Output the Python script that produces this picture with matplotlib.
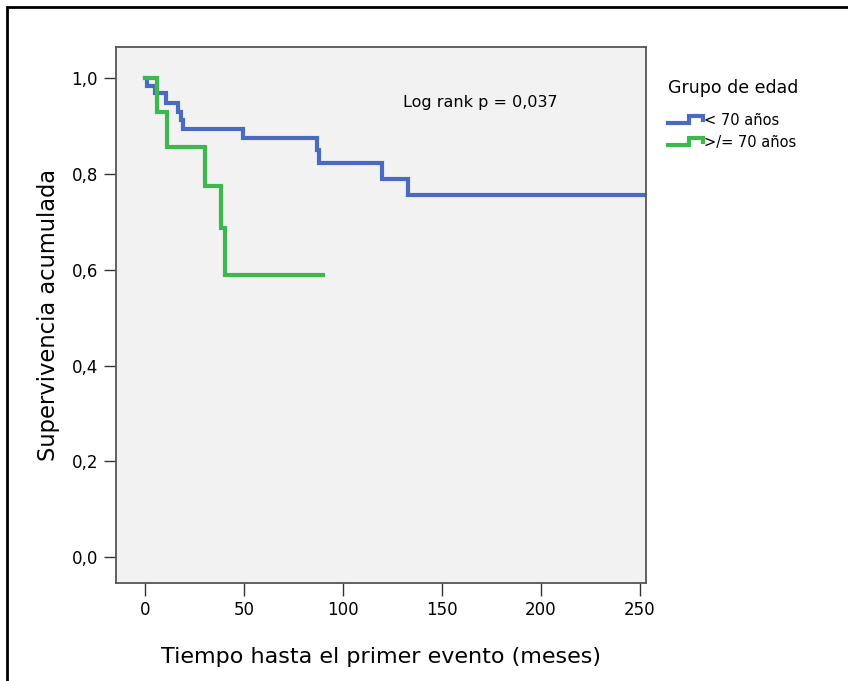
import numpy as np
import matplotlib
matplotlib.use("Agg")
import matplotlib.pyplot as plt
from matplotlib.lines import Line2D
from matplotlib.patches import Rectangle
from matplotlib.legend_handler import HandlerBase

# Kaplan-Meier steps
tiempo_menor70 = [0, 1, 5, 10.6, 16.8, 18.2, 19.4, 49.7, 87, 88, 119.5, 132.7, 255]
surv_menor70 = [1.0, 0.984, 0.968, 0.948, 0.930, 0.912, 0.894, 0.874, 0.850, 0.822, 0.790, 0.756, 0.756]

tiempo_mayor70 = [0, 5.9, 10.9, 30.3, 38.2, 40.4, 90]
surv_mayor70 = [1.0, 0.929, 0.857, 0.774, 0.688, 0.590, 0.590]

etiquetas = ["< 70 años", ">/= 70 años"]
colores = ["#4a6abf", "#3cb94c"]
x_ticks = [0, 50, 100, 150, 200, 250]
y_ticks = [0.0, 0.2, 0.4, 0.6, 0.8, 1.0]

plt.rcParams["font.family"] = ["DejaVu Sans"]


class StepHandler(HandlerBase):
    # legend icon drawn as a small step, like SPSS does
    def create_artists(self, legend, orig_handle, xdescent, ydescent,
                       width, height, fontsize, trans):
        xs = np.array([0, 0.6, 0.6, 1.0, 1.0]) * width - xdescent
        ys = np.array([0.15, 0.15, 0.85, 0.85, 0.45]) * height - ydescent
        ln = Line2D(xs, ys, color=orig_handle.get_color(),
                    lw=orig_handle.get_linewidth(), solid_joinstyle="miter")
        ln.set_transform(trans)
        return [ln]


fig = plt.figure(figsize=(8.48, 6.81), dpi=100)
ax = fig.add_axes([116 / 848, 1 - 583 / 681, 530 / 848, 536 / 681])
ax.set_facecolor("#f2f2f2")

l1, = ax.step(tiempo_menor70, surv_menor70, where="post", color=colores[0], lw=3,
              solid_joinstyle="miter")
l2, = ax.step(tiempo_mayor70, surv_mayor70, where="post", color=colores[1], lw=3,
              solid_joinstyle="miter")

ax.set_xlim(-14.6, 253)
ax.set_ylim(-0.054, 1.065)
ax.set_xticks(x_ticks)
ax.set_yticks(y_ticks)
ax.set_yticklabels([f"{v:.1f}".replace(".", ",") for v in y_ticks])
ax.tick_params(axis="both", length=9, width=1, color="#333333", labelsize=12,
               direction="out", pad=4)
for s in ax.spines.values():
    s.set_color("#555555")
    s.set_linewidth(1.3)

ax.set_xlabel("Tiempo hasta el primer evento (meses)", fontsize=16, labelpad=20)
ax.set_ylabel("Supervivencia acumulada", fontsize=16.3, labelpad=8)

ax.text(130.3, 0.95, "Log rank p = 0,037", fontsize=11.5, ha="left", va="center")

fig.text(668 / 848, 1 - 88 / 681, "Grupo de edad", fontsize=12.5, ha="left", va="center")
fig.legend([l1, l2], etiquetas, handler_map={Line2D: StepHandler()},
           loc="upper left", bbox_to_anchor=(668 / 848, 1 - 113 / 681),
           frameon=False, fontsize=10.5, handlelength=2.4, handletextpad=0.05,
           labelspacing=0.45, borderpad=0, borderaxespad=0)

# outer black frame of the original figure
fig.add_artist(Rectangle((7 / 848, -0.2), 1.2, 1.2 - 7 / 681, transform=fig.transFigure,
                         fill=False, edgecolor="black", lw=2))

fig.savefig("out.png", dpi=100)
